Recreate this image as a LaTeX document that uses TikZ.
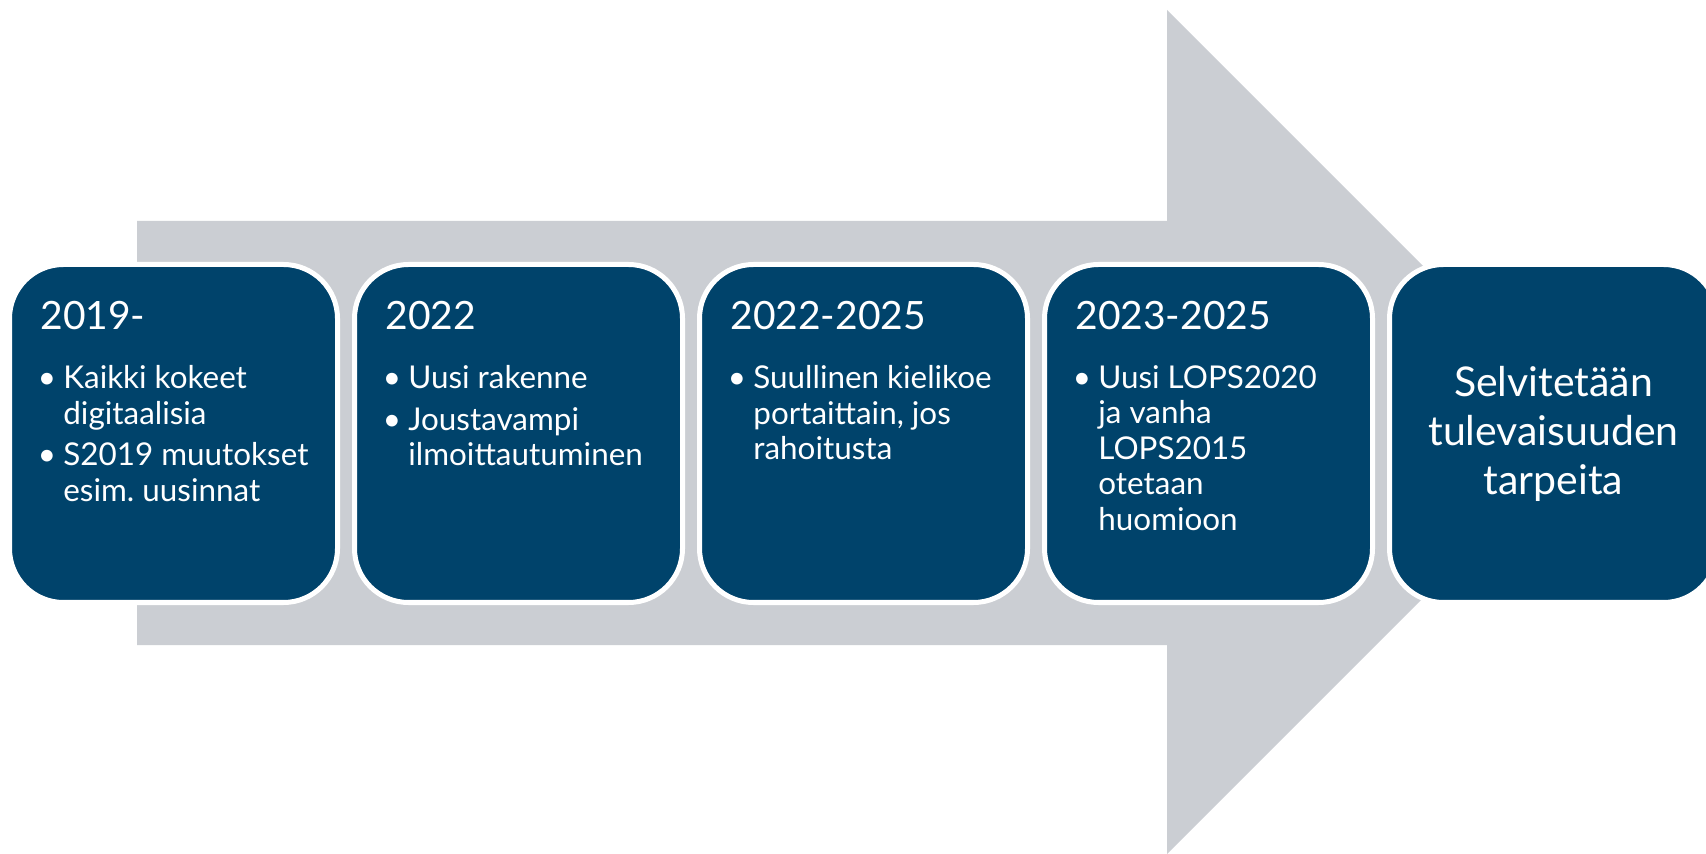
\documentclass[tikz,border=0pt]{standalone}
\usepackage{fontspec}
\setmainfont{Lato}
\definecolor{sininen}{RGB}{0,67,107}
\definecolor{harmaa}{RGB}{203,206,211}
\newcommand{\kohta}{\makebox[12.75pt][l]{\textbullet}}
\newcommand{\jatko}{\hspace*{12.75pt}}
\tikzset{
  laatikko/.style={rectangle, rounded corners=27pt, fill=sininen, draw=white, line width=2.5pt,
    minimum width=164pt, minimum height=169pt, inner sep=0pt, text=white},
  otsikko/.style={anchor=base west, text=white, inner sep=0pt, font=\fontsize{19.5}{24}\selectfont},
  lista/.style={anchor=north west, text=white, inner sep=0pt, align=left,
    font=\fontsize{15.7}{17.75}\selectfont}
}
\begin{document}
\begin{tikzpicture}[x=0.5pt,y=-0.5pt]
    \useasboundingbox (0,0) rectangle (1706,854);

    % Dibuja la flecha de fondo
    \fill[harmaa] (137,221) -- (1167,221) -- (1167,10) -- (1589,432) -- (1167,854) -- (1167,645) -- (137,645) -- cycle;

    % Dibuja las cajas
    \node[laatikko] (b1) at (173.5,433.5) {};
    \node[laatikko] (b2) at (518.5,433.5) {};
    \node[laatikko] (b3) at (863.5,433.5) {};
    \node[laatikko] (b4) at (1208.5,433.5) {};
    \node[laatikko, align=center, font=\fontsize{20.5}{24.5}\selectfont] (b5) at (1553.5,433.5) {Selvitetään\\tulevaisuuden\\tarpeita};

    % Dibuja los textos
    \node[otsikko] (v1) at (40,330) {2019-};
    \node[otsikko] (v2) at (385,330) {2022};
    \node[otsikko] (v3) at (730,330) {2022-2025};
    \node[otsikko] (v4) at (1075,330) {2023-2025};

    \node[lista] (l1) at (37.5,365) {\kohta Kaikki kokeet\\\jatko digitaalisia\\[3pt]\kohta S2019 muutokset\\\jatko esim.\ uusinnat};
    \node[lista] (l2) at (382.5,365) {\kohta Uusi rakenne\\[3pt]\kohta Joustavampi\\\jatko ilmoittautuminen};
    \node[lista] (l3) at (727.5,365) {\kohta Suullinen kielikoe\\\jatko portaittain, jos\\\jatko rahoitusta};
    \node[lista] (l4) at (1072.5,365) {\kohta Uusi LOPS2020\\\jatko ja vanha\\\jatko LOPS2015\\\jatko otetaan\\\jatko huomioon};
\end{tikzpicture}
\end{document}
